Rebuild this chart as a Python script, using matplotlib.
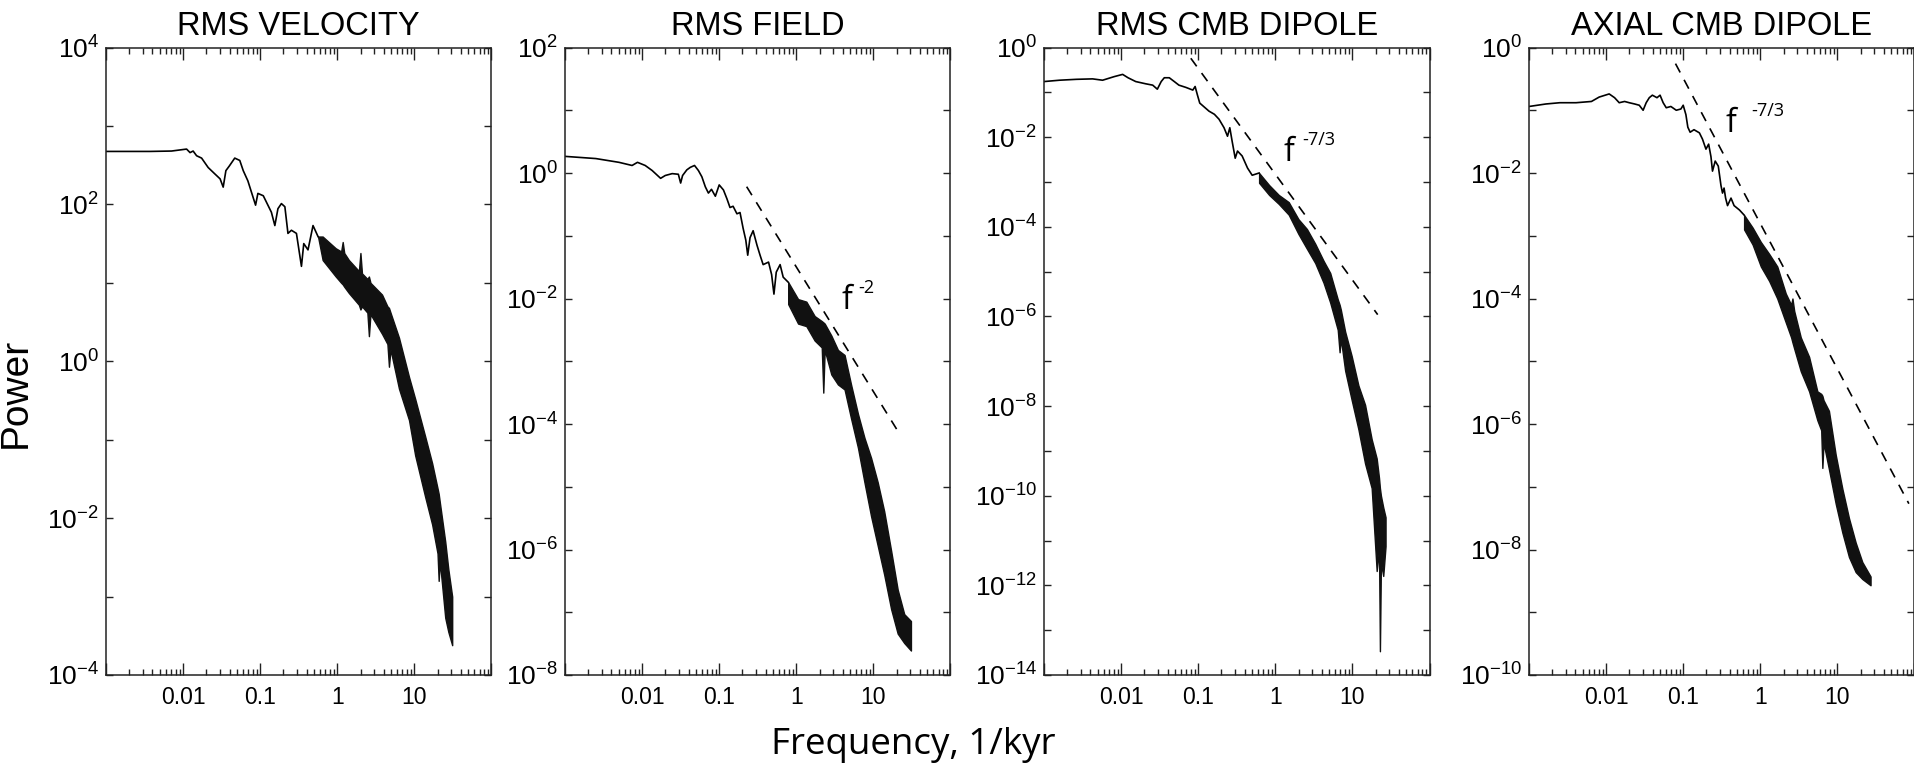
import numpy as np
import matplotlib.pyplot as plt
from matplotlib.ticker import LogLocator, FuncFormatter, NullLocator

plt.rcParams['font.family'] = ['Liberation Sans', 'DejaVu Sans']
plt.rcParams['mathtext.fontset'] = 'custom'
plt.rcParams['mathtext.rm'] = 'Liberation Sans'

# all spectra values are log10(frequency [1/kyr]) and log10(power)
titles = ['RMS VELOCITY', 'RMS FIELD', 'RMS CMB DIPOLE', 'AXIAL CMB DIPOLE']
ylims = [(-4, 4), (-8, 2), (-14, 0), (-10, 0)]

# RMS velocity
vel_logf = [-3.0, -2.43, -2.15, -1.955, -1.91, -1.87, -1.825, -1.76, -1.675, -1.59,
            -1.52, -1.48, -1.445, -1.40, -1.33, -1.265, -1.22, -1.16, -1.06, -1.03,
            -0.96, -0.90, -0.855, -0.81, -0.77, -0.725, -0.68, -0.64, -0.595, -0.53,
            -0.465, -0.435, -0.38, -0.315, -0.25]
vel_logp = [2.675, 2.675, 2.68, 2.705, 2.66, 2.68, 2.62, 2.59, 2.47, 2.39,
            2.325, 2.22, 2.43, 2.49, 2.59, 2.56, 2.43, 2.30, 1.99, 2.14,
            2.11, 1.99, 1.90, 1.73, 1.945, 2.01, 1.97, 1.63, 1.67, 1.63,
            1.21, 1.50, 1.42, 1.73, 1.59]
vel_band_logf = [-0.25, -0.19, -0.02, 0.05, 0.07, 0.09, 0.15, 0.28, 0.30, 0.32,
                 0.39, 0.41, 0.43, 0.58, 0.65, 0.67, 0.69, 0.80, 0.93, 1.01,
                 1.14, 1.23, 1.30, 1.315, 1.33, 1.40, 1.44, 1.49]
vel_band_hi = [1.59, 1.59, 1.44, 1.40, 1.52, 1.38, 1.29, 1.15, 1.38, 1.12,
               1.05, 1.08, 1.00, 0.85, 0.70, 0.68, 0.62, 0.30, -0.20, -0.48,
               -0.96, -1.30, -1.62, -1.69, -1.80, -2.30, -2.65, -3.00]
vel_band_lo = [1.59, 1.29, 1.08, 1.00, 0.98, 0.95, 0.87, 0.72, 0.66, 0.70,
               0.62, 0.32, 0.60, 0.35, 0.22, -0.07, 0.15, -0.35, -0.75, -1.20,
               -1.73, -2.08, -2.45, -2.80, -2.55, -3.27, -3.45, -3.62]

# RMS field
fld_logf = [-3.0, -2.60, -2.30, -2.13, -2.06, -1.96, -1.87, -1.76, -1.70, -1.61,
            -1.53, -1.50, -1.475, -1.42, -1.375, -1.32, -1.27, -1.225, -1.18, -1.14,
            -1.10, -1.05, -1.0, -0.945, -0.90, -0.86, -0.82, -0.77, -0.73, -0.69,
            -0.655, -0.63, -0.60, -0.56, -0.51, -0.47, -0.43, -0.36, -0.32, -0.29,
            -0.26, -0.21, -0.17, -0.105]
fld_logp = [0.265, 0.23, 0.17, 0.12, 0.17, 0.12, 0.04, -0.085, -0.04, -0.01,
            -0.02, -0.16, -0.04, 0.05, 0.09, 0.12, 0.04, -0.06, -0.22, -0.32,
            -0.26, -0.37, -0.19, -0.27, -0.41, -0.55, -0.53, -0.65, -0.63, -0.88,
            -1.07, -1.31, -1.03, -0.92, -1.15, -1.31, -1.46, -1.42, -1.62, -1.93,
            -1.58, -1.46, -1.66, -1.74]
fld_band_logf = [-0.105, 0.023, 0.13, 0.238, 0.33, 0.35, 0.368, 0.454, 0.54, 0.626,
                 0.71, 0.80, 0.884, 0.97, 1.056, 1.14, 1.23, 1.315, 1.40, 1.487]
fld_band_hi = [-1.74, -2.01, -2.05, -2.28, -2.36, -2.38, -2.40, -2.59, -2.82, -2.90,
               -3.37, -3.84, -4.22, -4.54, -4.93, -5.39, -6.02, -6.64, -7.03, -7.14]
fld_band_lo = [-2.09, -2.40, -2.44, -2.67, -2.78, -3.50, -2.82, -3.21, -3.37, -3.45,
               -3.91, -4.38, -4.93, -5.47, -5.94, -6.40, -6.95, -7.34, -7.49, -7.61]

# RMS CMB dipole
cmb_logf = [-3.0, -2.80, -2.58, -2.37, -2.24, -2.09, -1.98, -1.91, -1.81, -1.68,
            -1.59, -1.53, -1.48, -1.44, -1.375, -1.31, -1.25, -1.16, -1.07, -1.04,
            -1.01, -0.98, -0.92, -0.86, -0.79, -0.73, -0.665, -0.62, -0.59, -0.56,
            -0.52, -0.49, -0.43, -0.36, -0.30, -0.21]
cmb_logp = [-0.76, -0.73, -0.71, -0.70, -0.73, -0.65, -0.60, -0.675, -0.76, -0.81,
            -0.84, -0.93, -0.76, -0.675, -0.675, -0.76, -0.84, -0.89, -0.95, -0.87,
            -1.06, -1.24, -1.33, -1.42, -1.49, -1.60, -1.79, -1.98, -1.79, -2.09,
            -2.47, -2.31, -2.42, -2.69, -2.85, -2.80]
cmb_band_logf = [-0.21, -0.08, 0.045, 0.174, 0.30, 0.41, 0.518, 0.626, 0.712, 0.81,
                 0.834, 0.85, 0.906, 0.99, 1.078, 1.164, 1.25, 1.315, 1.345, 1.357,
                 1.37, 1.40, 1.43]
cmb_band_hi = [-2.80, -3.07, -3.29, -3.45, -3.83, -4.05, -4.38, -4.76, -5.03, -5.62,
               -5.74, -5.85, -6.34, -6.88, -7.54, -7.97, -8.74, -9.17, -9.60, -9.83,
               -10.0, -10.26, -10.48]
cmb_band_lo = [-3.02, -3.29, -3.49, -3.73, -4.16, -4.49, -4.81, -5.25, -5.69, -6.30,
               -6.80, -6.50, -7.21, -7.86, -8.52, -9.28, -9.83, -11.68, -11.2, -13.47,
               -11.5, -11.79, -11.13]

# axial CMB dipole
axl_logf = [-3.0, -2.78, -2.60, -2.39, -2.19, -2.09, -1.96, -1.89, -1.83, -1.76,
            -1.70, -1.63, -1.57, -1.52, -1.48, -1.44, -1.40, -1.34, -1.30, -1.26,
            -1.22, -1.16, -1.09, -1.03, -1.0, -0.965, -0.94, -0.91, -0.86, -0.79,
            -0.75, -0.705, -0.67, -0.64, -0.62, -0.585, -0.545, -0.51, -0.49, -0.47,
            -0.45, -0.425, -0.38, -0.34, -0.27, -0.21]
axl_logp = [-0.94, -0.90, -0.88, -0.88, -0.86, -0.79, -0.74, -0.80, -0.88, -0.86,
            -0.88, -0.90, -0.92, -1.00, -0.88, -0.80, -0.76, -0.80, -0.76, -0.88,
            -0.96, -0.94, -1.00, -0.98, -0.92, -1.07, -1.27, -1.35, -1.31, -1.36,
            -1.46, -1.62, -1.54, -1.74, -1.97, -1.81, -1.89, -2.20, -2.32, -2.24,
            -2.40, -2.52, -2.40, -2.52, -2.59, -2.67]
axl_band_logf = [-0.21, -0.10, 0.007, 0.115, 0.22, 0.33, 0.40, 0.417, 0.44, 0.525,
                 0.633, 0.74, 0.79, 0.805, 0.82, 0.89, 0.978, 1.064, 1.15, 1.237,
                 1.323, 1.43]
axl_band_hi = [-2.67, -2.87, -3.10, -3.29, -3.49, -3.92, -4.10, -4.00, -4.20, -4.62,
               -4.93, -5.48, -5.52, -5.55, -5.62, -5.79, -6.49, -7.03, -7.50, -7.89,
               -8.20, -8.43]
axl_band_lo = [-2.90, -3.14, -3.49, -3.72, -4.00, -4.38, -4.62, -4.70, -4.80, -5.16,
               -5.48, -5.94, -6.10, -6.70, -6.30, -6.72, -7.27, -7.73, -8.12, -8.36,
               -8.47, -8.57]

# power-law guide lines (end points)
guide_logf = [None, [-0.644, 1.323], [-1.096, 1.328], [-1.10, 1.927]]
guide_logp = [None, [-0.218, -4.125], [-0.24, -5.96], [-0.257, -7.27]]
guide_text = [None, '-2', '-7/3', '-7/3']
guide_text_at = [None, (0.583, -2.16), (0.109, -2.53), (-0.446, -1.35)]
sup_offset = [None, 12, 13, 18]

lines = [(vel_logf, vel_logp), (fld_logf, fld_logp), (cmb_logf, cmb_logp), (axl_logf, axl_logp)]
bands = [(vel_band_logf, vel_band_hi, vel_band_lo),
         (fld_band_logf, fld_band_hi, fld_band_lo),
         (cmb_band_logf, cmb_band_hi, cmb_band_lo),
         (axl_band_logf, axl_band_hi, axl_band_lo)]

W, H = 1915, 763
fig = plt.figure(figsize=(W / 100, H / 100), dpi=100)
lefts = [106, 565, 1044, 1529]
top, bottom = 47.5, 675
axw = 385.5

spine_col = '#222222'


def xfmt(v, pos):
    lab = {0.01: '0.01', 0.1: '0.1', 1.0: '1', 10.0: '10'}
    for k in lab:
        if abs(v - k) < 1e-9 * max(k, 1):
            return lab[k]
    return ''


def yfmt(v, pos):
    e = int(round(np.log10(v)))
    if e % 2 != 0:
        return ''
    return r'$\mathregular{10^{%d}}$' % e


for i in range(4):
    ax = fig.add_axes([lefts[i] / W, (H - bottom) / H, axw / W, (bottom - top) / H])
    lf, lp = lines[i]
    ax.plot(10.0 ** np.array(lf), 10.0 ** np.array(lp), color='k', lw=1.2)
    bf, bh, bl = bands[i]
    bf = 10.0 ** np.array(bf)
    ax.fill_between(bf, 10.0 ** np.array(bl), 10.0 ** np.array(bh),
                    color='#111111', lw=1.0, edgecolor='#111111')

    if guide_logf[i] is not None:
        gf = 10.0 ** np.array(guide_logf[i])
        gp = 10.0 ** np.array(guide_logp[i])
        ax.plot(gf, gp, color='k', lw=1.2, dashes=(6, 5))
        tx, ty = guide_text_at[i]
        ax.text(10 ** tx, 10 ** ty, 'f', family=['Open Sans', 'DejaVu Sans'],
                fontsize=23, ha='left', va='baseline')
        ax.annotate(guide_text[i], xy=(10 ** tx, 10 ** ty), xytext=(sup_offset[i], 11.5),
                    textcoords='offset points', family=['Open Sans', 'DejaVu Sans'],
                    fontsize=13, ha='left', va='baseline')

    ax.set_xscale('log')
    ax.set_yscale('log')
    ax.set_xlim(1e-3, 1e2)
    ax.set_ylim(10.0 ** ylims[i][0], 10.0 ** ylims[i][1])

    ax.xaxis.set_major_locator(LogLocator(base=10, numticks=20))
    ax.xaxis.set_minor_locator(LogLocator(base=10, subs=np.arange(2, 10), numticks=20))
    ax.xaxis.set_major_formatter(FuncFormatter(xfmt))
    ax.yaxis.set_major_locator(LogLocator(base=10, numticks=30))
    ax.yaxis.set_minor_locator(NullLocator())
    ax.yaxis.set_major_formatter(FuncFormatter(yfmt))

    ax.tick_params(axis='both', which='both', direction='in', top=True, right=True,
                   color=spine_col, width=1.0)
    ax.tick_params(axis='x', which='major', length=8.5, pad=8, labelsize=16.5)
    ax.tick_params(axis='x', which='minor', length=4)
    ax.tick_params(axis='y', which='major', length=5, pad=5, labelsize=19)
    for s in ax.spines.values():
        s.set_linewidth(1.1)
        s.set_color(spine_col)

    ax.set_title(titles[i], fontsize=23.5, pad=9)

fig.text(16 / W, 1 - 393 / H, 'Power', rotation=90, ha='center', va='center',
         family=['Liberation Sans Narrow', 'Liberation Sans'], fontsize=28)
fig.text(913 / W, 1 - 754 / H, 'Frequency, 1/kyr', ha='center', va='baseline',
         family=['Open Sans', 'DejaVu Sans'], fontsize=26.5)

fig.savefig('out.png', dpi=100)
